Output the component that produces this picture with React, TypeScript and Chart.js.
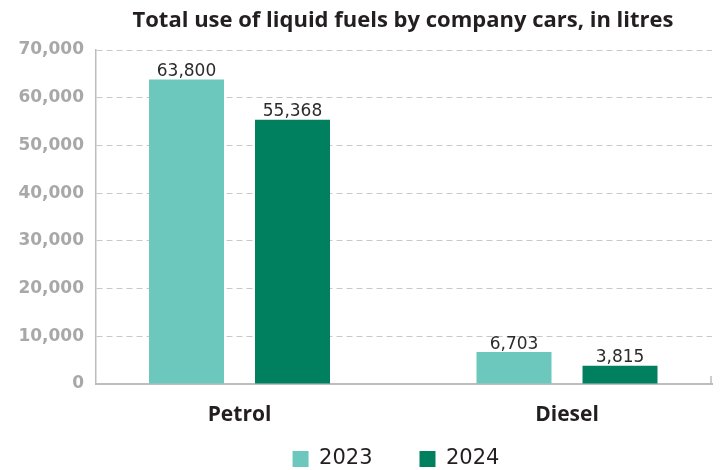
import React, { useEffect, useRef } from 'react';
import { Chart, registerables } from 'chart.js';

Chart.register(...registerables);

const chartTitle = 'Total use of liquid fuels by company cars, in litres';
const categories = ['Petrol', 'Diesel'];
const seriesNames = ['2023', '2024'];
const values2023 = [63800, 6703];
const values2024 = [55368, 3815];
const yMin = 0;
const yMax = 70000;
const yStep = 10000;
const seriesColors = ['#6cc8bd', '#00805e'];

const NUM_FONT = '"DejaVu Sans", sans-serif';
const WORD_FONT = '"Open Sans", sans-serif';

const fmt = (v: number) => v.toLocaleString('en-US');

const layoutTweaks = {
  id: 'layoutTweaks',
  afterLayout(chart: any) {
    const ca = chart.chartArea;
    const t = chart.titleBlock;
    if (t) {
      const c = (ca.left + ca.right) / 2 - 1;
      const w = 680;
      t.left = c - w / 2;
      t.right = c + w / 2;
    }
    const lg = chart.legend;
    if (lg) {
      const c = (ca.left + ca.right) / 2 - 8;
      lg.left = c - 300;
      lg.right = c + 300;
      lg.top = ca.bottom + 17.5;
    }
  },
  afterDraw(chart: any) {
    const { ctx, chartArea } = chart;
    ctx.save();
    ctx.strokeStyle = '#bdbdbd';
    ctx.lineWidth = 1.5;
    ctx.beginPath();
    ctx.moveTo(chartArea.right - 1, chartArea.bottom - 8);
    ctx.lineTo(chartArea.right - 1, chartArea.bottom);
    ctx.stroke();
    ctx.restore();
  },
};

const valueLabels = {
  id: 'valueLabels',
  afterDatasetsDraw(chart: any) {
    const { ctx } = chart;
    ctx.save();
    ctx.font = `400 17px ${NUM_FONT}`;
    ctx.fillStyle = '#2b2b2b';
    ctx.textAlign = 'center';
    ctx.textBaseline = 'alphabetic';
    chart.data.datasets.forEach((ds: any, di: number) => {
      const meta = chart.getDatasetMeta(di);
      meta.data.forEach((el: any, i: number) => {
        const v = ds.data[i].y;
        ctx.fillText(fmt(v), el.x, el.y - 3.5);
      });
    });
    ctx.restore();
  },
};

export default function App() {
  const canvasRef = useRef<HTMLCanvasElement | null>(null);

  useEffect(() => {
    if (!canvasRef.current) return;
    const chart = new Chart(canvasRef.current, {
      type: 'bar',
      data: {
        datasets: [
          {
            label: seriesNames[0],
            data: values2023.map((v, i) => ({ x: i, y: v })),
            backgroundColor: seriesColors[0],
            borderWidth: 0,
          },
          {
            label: seriesNames[1],
            data: values2024.map((v, i) => ({ x: i, y: v })),
            backgroundColor: seriesColors[1],
            borderWidth: 0,
          },
        ],
      },
      options: {
        animation: false,
        responsive: true,
        maintainAspectRatio: false,
        categoryPercentage: 0.6473,
        barPercentage: 0.7075,
        layout: { padding: { left: 0, right: 14, top: 0, bottom: 0 } },
        plugins: {
          title: {
            display: true,
            text: chartTitle,
            color: '#231f20',
            font: { family: WORD_FONT, size: 22, weight: 'bold' },
            padding: { top: 8, bottom: 15.6 },
          },
          legend: {
            display: true,
            position: 'bottom',
            maxHeight: 40,
            labels: {
              boxWidth: 16,
              boxHeight: 16,
              padding: 47,
              color: '#231f20',
              font: { family: NUM_FONT, size: 21, weight: 'normal' },
            },
          },
          tooltip: { enabled: false },
        },
        scales: {
          x: {
            type: 'linear',
            offset: false,
            grace: 0,
            min: -0.4382,
            max: 1.4427,
            afterBuildTicks: (axis: any) => {
              axis.ticks = categories.map((_, i) => ({ value: i }));
            },
            afterFit: (axis: any) => {
              axis.height = 46;
            },
            grid: { display: true, offset: false, drawOnChartArea: false, drawTicks: false },
            border: { display: true, color: '#bdbdbd', width: 2 },
            ticks: {
              padding: 18.5,
              maxRotation: 0,
              autoSkip: false,
              color: '#231f20',
              font: { family: WORD_FONT, size: 21, weight: 'bold' },
              callback: (v: any) => categories[v] ?? '',
            },
          },
          y: {
            min: yMin,
            max: yMax,
            afterFit: (axis: any) => {
              axis.width = 96;
            },
            ticks: {
              stepSize: yStep,
              padding: 12,
              color: '#a8a8aa',
              font: { family: NUM_FONT, size: 17, weight: 'bold' },
              callback: (v: any) => fmt(Number(v)),
            },
            grid: {
              drawTicks: false,
              lineWidth: 1,
              color: (c: any) => (c.tick && c.tick.value === 0 ? 'rgba(0,0,0,0)' : '#c8c8c8'),
            },
            border: { display: true, color: '#bdbdbd', width: 1.5, dash: [6, 4] },
          },
        },
      },
      plugins: [layoutTweaks, valueLabels],
    } as any);
    return () => chart.destroy();
  }, []);

  return (
    <div style={{ position: 'fixed', left: 0, top: 0, width: 726, height: 470, background: '#fff' }}>
      <canvas ref={canvasRef} />
    </div>
  );
}
